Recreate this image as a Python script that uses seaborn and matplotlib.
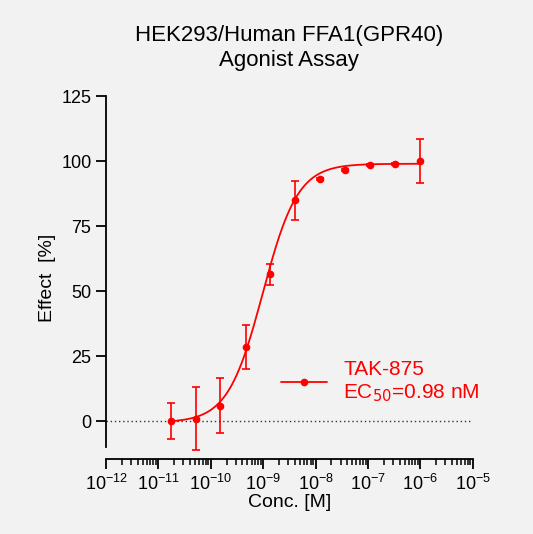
import numpy as np
import matplotlib
matplotlib.use("Agg")
import matplotlib.pyplot as plt
import seaborn as sns
from matplotlib.lines import Line2D
from matplotlib.ticker import LogLocator, NullFormatter

# Data
conc = [1.7e-11, 5.1e-11, 1.52e-10, 4.6e-10, 1.37e-9, 4.1e-9, 1.23e-8, 3.7e-8, 1.1e-7, 3.3e-7, 1.0e-6]
effect = [0.0, 1.0, 6.0, 28.5, 56.5, 85.0, 93.0, 96.5, 98.5, 99.0, 100.0]
err = [7.0, 12.0, 10.5, 8.5, 4.0, 7.5, 0.4, 0.4, 0.4, 0.4, 8.5]

# Fitted 4PL parameters
ec50 = 0.98e-9
bottom, top, hill = -0.5, 99.0, 1.3

RED = "#ff0000"
BG = "#f2f2f2"

sns.set_style("ticks")
plt.rcParams["font.family"] = ["Liberation Sans", "DejaVu Sans"]
plt.rcParams["text.color"] = "black"
plt.rcParams["axes.labelcolor"] = "black"
plt.rcParams["xtick.color"] = "black"
plt.rcParams["ytick.color"] = "black"

fig = plt.figure(figsize=(5.33, 5.34), dpi=100, facecolor=BG)
ax = fig.add_axes([0.199, 0.140, 0.688, 0.680])
ax.set_facecolor(BG)

xfit = np.logspace(np.log10(conc[0]), np.log10(conc[-1]), 300)
yfit = bottom + (top - bottom) / (1 + (ec50 / xfit) ** hill)
sns.lineplot(x=xfit, y=yfit, color=RED, lw=1.3, ax=ax)
ax.errorbar(conc, effect, yerr=err, fmt="o", color=RED, ms=4.5,
            capsize=3, elinewidth=1.2, capthick=1.2)
ax.plot([1e-12, 9e-6], [0, 0], ls=(0, (1, 2)), color="#333333", lw=1)

ax.set_xscale("log")
ax.set_xlim(1e-12, 1e-5)
ax.set_ylim(-14.6, 125)
ax.set_yticks([0, 25, 50, 75, 100, 125])
ax.set_xticks([10.0 ** k for k in range(-12, -4)])
ax.xaxis.set_minor_locator(LogLocator(base=10, subs=np.arange(2, 10), numticks=20))
ax.xaxis.set_minor_formatter(NullFormatter())
ax.tick_params(axis="both", which="major", labelsize=13, width=1.3, length=7, color="black")
ax.tick_params(axis="x", which="minor", width=1.1, length=4)

for s in ["top", "right"]:
    ax.spines[s].set_visible(False)
ax.spines["left"].set_bounds(-10, 125)
ax.spines["left"].set_linewidth(1.3)
ax.spines["bottom"].set_linewidth(1.3)
ax.spines["left"].set_color("black")
ax.spines["bottom"].set_color("black")

ax.set_xlabel("Conc. [M]", fontsize=14, labelpad=0)
ax.set_ylabel("Effect  [%]", fontsize=14)
ax.set_title("HEK293/Human FFA1(GPR40)\nAgonist Assay", fontsize=16, pad=22)

h = Line2D([], [], color=RED, marker="o", ms=4.5, lw=1.3)
leg = ax.legend([h], ["TAK-875\nEC$_{50}$=0.98 nM"], loc="lower right",
                bbox_to_anchor=(1.07, 0.1), frameon=False, fontsize=15,
                handlelength=2.2)
for t in leg.get_texts():
    t.set_color(RED)

fig.savefig("out.png", dpi=100, facecolor=BG)
